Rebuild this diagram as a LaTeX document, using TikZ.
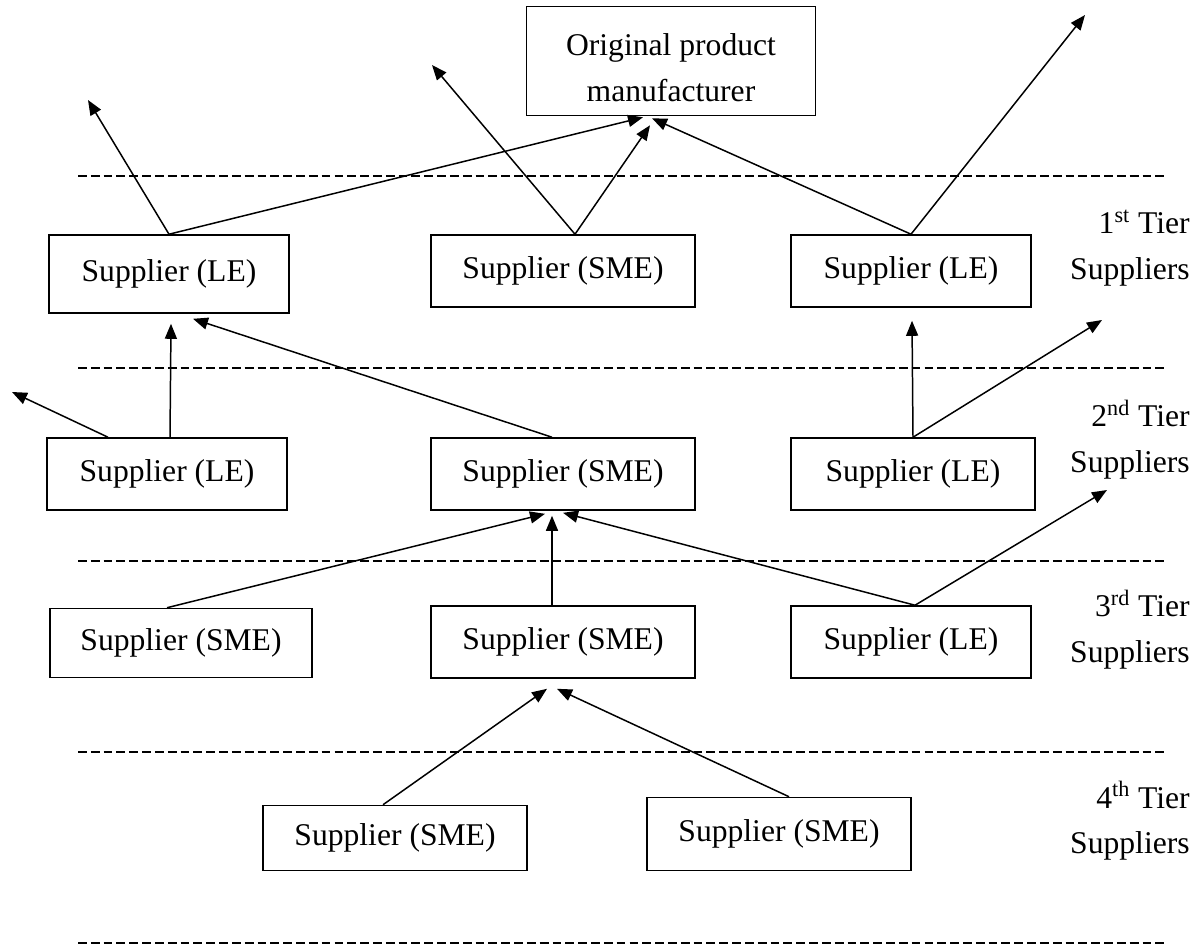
\documentclass[tikz,border=0pt]{standalone}
\usepackage{fontspec}
\setmainfont{Liberation Serif}
\usetikzlibrary{arrows.meta}

\tikzset{
    supbox/.style={draw, line width=0.9pt, inner sep=0pt, minimum height=1.44cm},
    lebox/.style={supbox, minimum width=4.8cm},
    smebox/.style={supbox, minimum width=5.28cm},
    tierline/.style={line width=1.1pt, dash pattern=on 5pt off 2.3pt},
    link/.style={line width=0.85pt, -{Triangle[length=0.3cm,width=0.24cm]}},
    tierlabel/.style={anchor=east, align=right, inner sep=0pt}
}

\begin{document}
\begin{tikzpicture}[x=0.02cm, y=-0.02cm,
    every node/.style={font=\fontsize{18}{26}\selectfont}]
    \useasboundingbox (0, 0) rectangle (1199, 947);
    % dashed tier borders
    \foreach \y in {176, 368, 561, 752, 943}
        \draw [tierline] (78, \y) -- (1168, \y);
    % manufacturer
    \node [supbox, minimum width=5.78cm, minimum height=2.18cm,
        label={[align=center, inner sep=0pt, yshift=-0.14cm]center:Original product\\manufacturer}] (opm) at (671, 61) {};
    % 1st tier
    \node [lebox, minimum height=1.56cm] (t1le1) at (169, 274) {Supplier (LE)};
    \node [smebox] (t1sme) at (563, 271) {Supplier (SME)};
    \node [lebox] (t1le2) at (911, 271) {Supplier (LE)};
    % 2nd tier
    \node [lebox] (t2le1) at (167, 474) {Supplier (LE)};
    \node [smebox] (t2sme) at (563, 474) {Supplier (SME)};
    \node [lebox, minimum width=4.88cm] (t2le2) at (913, 474) {Supplier (LE)};
    % 3rd tier
    \node [smebox, minimum width=5.24cm, minimum height=1.38cm] (t3sme1) at (181, 643) {Supplier (SME)};
    \node [smebox] (t3sme2) at (563, 642) {Supplier (SME)};
    \node [lebox] (t3le) at (911, 642) {Supplier (LE)};
    % 4th tier
    \node [smebox, minimum height=1.3cm] (t4sme1) at (395, 838) {Supplier (SME)};
    \node [smebox, minimum height=1.46cm] (t4sme2) at (779, 834) {Supplier (SME)};
    % tier labels
    \node [tierlabel] (lab1) at (1190, 248) {1\textsuperscript{st} Tier\\Suppliers};
    \node [tierlabel] (lab2) at (1190, 440) {2\textsuperscript{nd} Tier\\Suppliers};
    \node [tierlabel] (lab3) at (1190, 630) {3\textsuperscript{rd} Tier\\Suppliers};
    \node [tierlabel] (lab4) at (1190, 821) {4\textsuperscript{th} Tier\\Suppliers};
    % free arrow ends
    \coordinate (up1) at (88, 100);
    \coordinate (up2) at (432, 65);
    \coordinate (up3) at (1085, 15);
    \coordinate (up4) at (12, 392);
    \coordinate (up5) at (1102, 320);
    \coordinate (up6) at (1107, 490);
    % 1st tier links
    \draw [link] (t1le1.north) -- (up1);
    \draw [link] (t1le1.north) -- ([xshift=-0.56cm, yshift=-0.02cm]opm.south);
    \draw [link] ([xshift=0.24cm]t1sme.north) -- (up2);
    \draw [link] ([xshift=0.24cm]t1sme.north) -- ([xshift=-0.42cm, yshift=-0.18cm]opm.south);
    \draw [link] (t1le2.north) -- ([xshift=-0.38cm, yshift=-0.04cm]opm.south);
    \draw [link] (t1le2.north) -- (up3);
    % 2nd tier links
    \draw [link] ([xshift=-1.18cm]t2le1.north) -- (up4);
    \draw [link] ([xshift=0.06cm]t2le1.north) -- ([xshift=0.04cm, yshift=-0.2cm]t1le1.south);
    \draw [link] ([xshift=-0.22cm]t2sme.north) -- ([xshift=0.48cm, yshift=-0.1cm]t1le1.south);
    \draw [link] (t2le2.north) -- ([xshift=0.02cm, yshift=-0.26cm]t1le2.south);
    \draw [link] (t2le2.north) -- (up5);
    % 3rd tier links
    \draw [link] ([xshift=-0.28cm]t3sme1.north) -- ([xshift=-0.36cm, yshift=-0.06cm]t2sme.south);
    \draw [link] ([xshift=-0.22cm]t3sme2.north) -- ([xshift=-0.22cm, yshift=-0.1cm]t2sme.south);
    \draw [link] ([xshift=0.08cm]t3le.north) -- ([yshift=-0.04cm]t2sme.south);
    \draw [link] ([xshift=0.08cm]t3le.north) -- (up6);
    % 4th tier links
    \draw [link] ([xshift=-0.24cm]t4sme1.north) -- ([xshift=-0.32cm, yshift=-0.2cm]t3sme2.south);
    \draw [link] ([xshift=0.2cm]t4sme2.north) -- ([xshift=-0.12cm, yshift=-0.2cm]t3sme2.south);
\end{tikzpicture}
\end{document}
